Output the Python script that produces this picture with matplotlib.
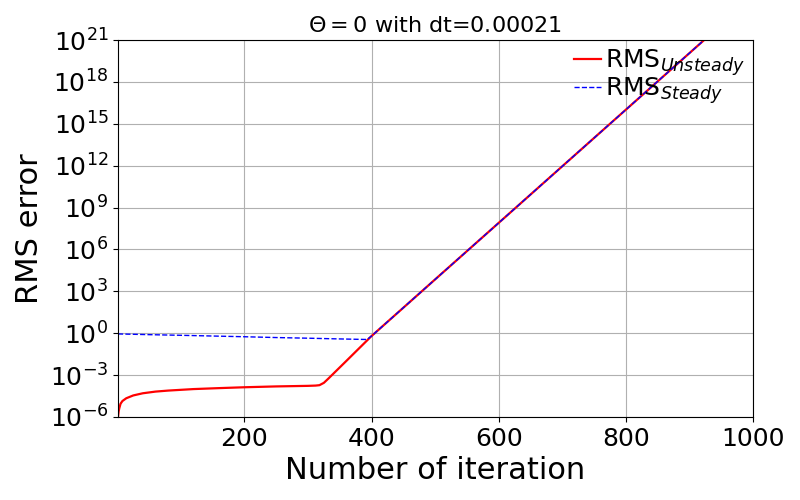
import matplotlib
matplotlib.use("Agg")
import matplotlib.pyplot as plt
from matplotlib.ticker import NullLocator

# Data
unsteady_iter = [1, 2, 3, 5, 8, 14, 25, 40, 60, 80, 120, 160, 200, 250, 300,
                 312, 318, 325, 332, 360, 400, 500, 600, 700, 800, 900, 1000]
unsteady_rms = [1e-6, 2.5e-6, 4.2e-6, 8.9e-6, 1.4e-5, 2.2e-5, 3.5e-5, 5.0e-5,
                6.6e-5, 7.8e-5, 1.0e-4, 1.17e-4, 1.35e-4, 1.55e-4, 1.7e-4,
                1.78e-4, 1.9e-4, 2.8e-4, 5.6e-4, 1.0e-2, 0.63, 7.1e3, 7.9e7,
                8.9e11, 1.0e16, 1.12e20, 1.26e24]

steady_iter = [1, 50, 100, 150, 200, 250, 300, 350, 393, 400, 500, 600, 700,
               800, 900, 1000]
steady_rms = [0.89, 0.79, 0.71, 0.63, 0.56, 0.49, 0.44, 0.39, 0.355, 0.63,
              7.1e3, 7.9e7, 8.9e11, 1.0e16, 1.12e20, 1.26e24]

x_ticks = [200, 400, 600, 800, 1000]
y_ticks = [1e-6, 1e-3, 1e0, 1e3, 1e6, 1e9, 1e12, 1e15, 1e18, 1e21]
y_tick_labels = [r"$10^{-6}$", r"$10^{-3}$", r"$10^{0}$", r"$10^{3}$",
                 r"$10^{6}$", r"$10^{9}$", r"$10^{12}$", r"$10^{15}$",
                 r"$10^{18}$", r"$10^{21}$"]

fig = plt.figure(figsize=(8, 5), dpi=100)
ax = fig.add_axes([0.1475, 0.166, 0.7935, 0.754])

ax.semilogy(unsteady_iter, unsteady_rms, color="red", lw=1.6,
            label=r"RMS$_{Unsteady}$")
ax.semilogy(steady_iter, steady_rms, color="blue", lw=1.0, ls="--",
            label=r"RMS$_{Steady}$")

ax.set_xlim(1, 1000)
ax.set_ylim(1e-6, 1e21)
ax.set_xticks(x_ticks)
ax.set_yticks(y_ticks)
ax.set_yticklabels(y_tick_labels)
ax.yaxis.set_minor_locator(NullLocator())
ax.tick_params(axis="both", labelsize=18)
ax.grid(True, color="#b0b0b0", lw=0.8)

ax.set_xlabel("Number of iteration", fontsize=22)
ax.set_ylabel("RMS error", fontsize=22)
ax.set_title(r"$\Theta=0$ with dt=0.00021", fontsize=16)

ax.legend(loc="upper right", frameon=False, fontsize=18,
          handlelength=1.1, handletextpad=0.15, borderaxespad=0.0,
          borderpad=0.3, labelspacing=-0.1)

fig.savefig("out.png", dpi=100)
